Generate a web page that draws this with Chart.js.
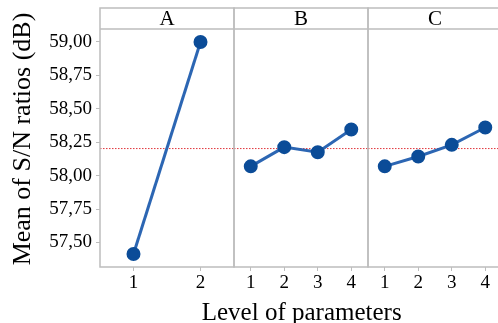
<!DOCTYPE html>
<html>
<head>
<meta charset="utf-8">
<script src="https://cdn.jsdelivr.net/npm/chart.js@4"></script>
<style>
  html, body { margin: 0; padding: 0; background: #fff; overflow: hidden; }
  .wrap { position: relative; width: 498px; height: 323px; overflow: hidden;
          font-family: 'Liberation Serif', 'Times New Roman', serif; color: #000; }
  canvas { position: absolute; top: 0; }
  .ytitle { position: absolute; left: -128px; top: 123.5px; width: 300px; height: 30px;
            line-height: 30px; font-size: 26px; text-align: center; white-space: nowrap;
            transform: rotate(-90deg); }
  .xtitle { position: absolute; left: 151.7px; top: 297px; width: 300px; height: 30px;
            line-height: 30px; font-size: 25px; text-align: center; white-space: nowrap; }
</style>
</head>
<body>
<div class="wrap">
  <canvas id="panel-a" style="left:0px" width="240" height="323"></canvas>
  <canvas id="panel-b" style="left:228px" width="146" height="323"></canvas>
  <canvas id="panel-c" style="left:362px" width="146" height="323"></canvas>
  <div class="ytitle">Mean of S/N ratios (dB)</div>
  <div class="xtitle">Level of parameters</div>
</div>
<script>
// data
const factors = ['A', 'B', 'C'];
const levelsA = ['1', '2'];
const levelsB = ['1', '2', '3', '4'];
const levelsC = ['1', '2', '3', '4'];
const snA = [57.413, 59.00];
const snB = [58.069, 58.213, 58.175, 58.345];
const snC = [58.069, 58.143, 58.230, 58.360];
const yTicks = [57.50, 57.75, 58.00, 58.25, 58.50, 58.75, 59.00];
const meanSN = 58.206;

const serif = "'Liberation Serif', 'Times New Roman', serif";
const frameColor = '#bdbdbd';

// panel frame, header box and mean line
const panelPlugin = {
    id: 'panelFrame',
    beforeDatasetsDraw(chart, args, opts) {
        const a = chart.chartArea;
        const ctx = chart.ctx;
        const y = chart.scales.y.getPixelForValue(meanSN);
        ctx.save();
        ctx.strokeStyle = '#e0343a';
        ctx.lineWidth = 1;
        ctx.setLineDash([1.5, 1.5]);
        ctx.beginPath();
        ctx.moveTo(a.left, y + 0.5);
        ctx.lineTo(a.right, y + 0.5);
        ctx.stroke();
        ctx.restore();
    },
    afterDraw(chart, args, opts) {
        const a = chart.chartArea;
        const ctx = chart.ctx;
        ctx.save();
        ctx.strokeStyle = frameColor;
        ctx.lineWidth = 1.5;
        ctx.strokeRect(a.left, 8, a.right - a.left, a.bottom - 8);
        ctx.beginPath();
        ctx.moveTo(a.left, a.top);
        ctx.lineTo(a.right, a.top);
        ctx.stroke();
        ctx.fillStyle = '#000';
        ctx.font = '21px ' + serif;
        ctx.textAlign = 'center';
        ctx.textBaseline = 'middle';
        ctx.fillText(opts.label, (a.left + a.right) / 2, 19.5);
        ctx.restore();
    }
};

function makePanel(id, name, labels, values, pad, showY) {
    new Chart(document.getElementById(id), {
        type: 'line',
        data: {
            labels: labels,
            datasets: [{
                data: values,
                borderColor: '#2c66b3',
                borderWidth: 3,
                backgroundColor: '#0b4c98',
                pointBackgroundColor: '#0b4c98',
                pointBorderColor: '#0b4c98',
                pointRadius: 5.5,
                tension: 0,
                clip: 8
            }]
        },
        plugins: [panelPlugin],
        options: {
            responsive: false,
            animation: false,
            events: [],
            layout: { autoPadding: false, padding: { top: 29, bottom: 0, left: pad[0], right: pad[1] } },
            plugins: {
                legend: { display: false },
                tooltip: { enabled: false },
                panelFrame: { label: name }
            },
            scales: {
                x: {
                    type: 'category',
                    offset: true,
                    grid: { display: true, drawOnChartArea: false, tickLength: 4, color: frameColor },
                    border: { display: false },
                    ticks: { color: '#000', font: { family: serif, size: 19 }, padding: 1, maxRotation: 0, autoSkip: false },
                    afterFit(scale) { scale.height = 56; }
                },
                y: {
                    display: showY,
                    min: 57.316,
                    max: 59.097,
                    afterBuildTicks(scale) { scale.ticks = yTicks.map(v => ({ value: v })); },
                    grid: { display: true, drawOnChartArea: false, tickLength: 4, color: frameColor },
                    border: { display: false },
                    ticks: {
                        color: '#000',
                        font: { family: serif, size: 19 },
                        padding: 4,
                        callback: v => v.toFixed(2).replace('.', ',')
                    },
                    afterFit(scale) { scale.width = showY ? 100 : 0; }
                }
            }
        }
    });
}

makePanel('panel-a', factors[0], levelsA, snA, [0, 6], true);
makePanel('panel-b', factors[1], levelsB, snB, [6, 6], false);
makePanel('panel-c', factors[2], levelsC, snC, [6, 6], false);
</script>
</body>
</html>
